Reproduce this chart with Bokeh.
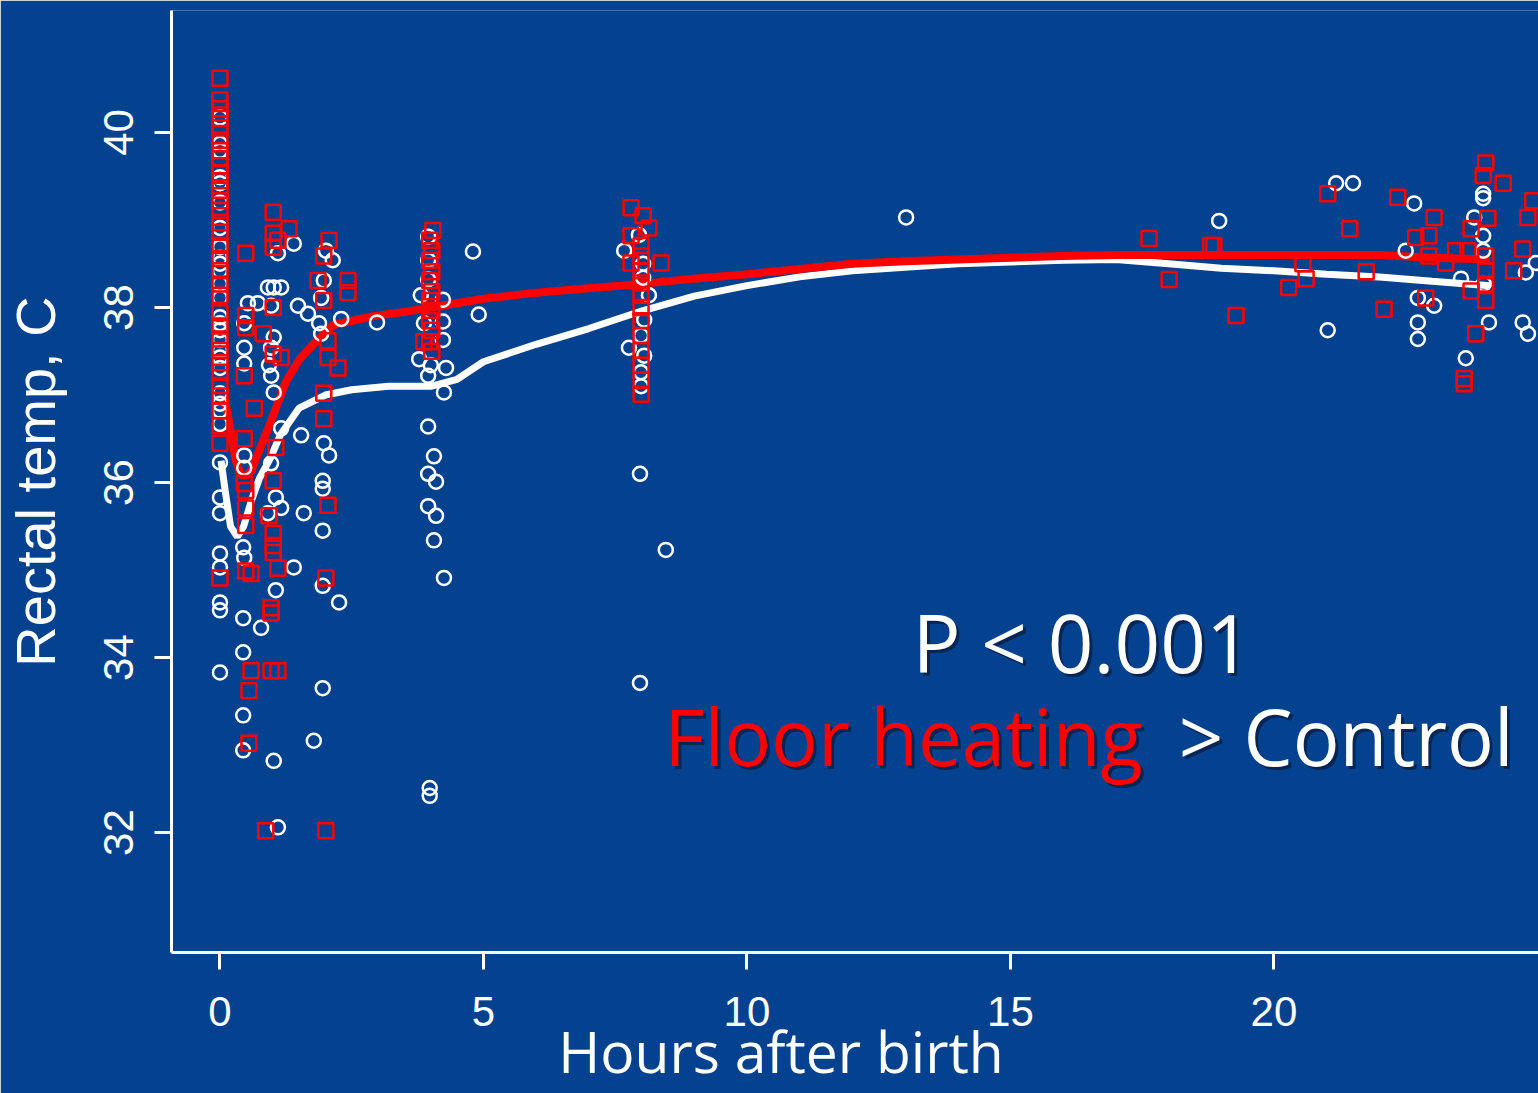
from bokeh.plotting import figure
from bokeh.models import Range1d, FixedTicker, Label
from bokeh.embed import file_html
from bokeh.resources import INLINE

BG = "#04428F"
RED = "#FF0000"
WHITE = "#FFFFFF"

x_ticks = [0, 5, 10, 15, 20]
y_ticks = [32, 34, 36, 38, 40]

# ---------------- Control (white circles) ----------------
ctrl_birth_temp = [40.17, 39.87, 39.79, 39.49, 39.42, 39.20, 38.91, 38.69, 38.57, 38.50,
                   38.42, 38.27, 38.11, 37.89, 37.82, 37.74, 37.63, 37.51, 37.43, 37.31,
                   37.02, 36.90, 36.82, 36.67, 36.23, 35.83, 35.65, 35.19, 35.03, 34.63,
                   34.54, 33.83]
ctrl_early_hours = [0.53, 0.46, 0.46, 0.46, 0.46, 0.46, 0.44, 0.46, 0.44, 0.44, 0.44, 0.44, 0.72, 0.78,
                    1.10, 1.40, 1.02, 1.16, 0.91, 0.97, 1.48, 1.67, 1.88, 2.30, 1.02, 1.92, 0.97, 0.93,
                    0.97, 1.02, 1.16, 1.54, 0.97, 1.06, 1.16, 1.59, 0.91, 1.40, 1.02, 1.10, 1.06,
                    2.01, 2.14, 1.97, 1.92, 1.97, 2.07, 1.95, 1.95, 1.95, 2.26, 1.95, 1.95, 1.78, 2.98]
ctrl_early_temp = [38.05, 37.82, 37.54, 37.36, 36.31, 36.17, 35.26, 35.14, 34.45, 34.06, 33.34, 32.94, 38.05, 34.34,
                   38.62, 38.73, 38.23, 38.23, 38.23, 38.02, 38.02, 37.93, 37.82, 37.87, 37.66, 37.70, 37.54, 37.34,
                   37.22, 37.03, 36.62, 36.54, 36.22, 35.83, 35.71, 35.65, 35.65, 35.03, 32.82, 32.06, 34.77,
                   38.65, 38.54, 38.31, 38.11, 36.45, 36.31, 36.02, 35.93, 35.45, 34.63, 34.82, 33.65, 33.05, 37.83]
ctrl_4h_hours = [3.95, 3.95, 3.95, 3.81, 4.23, 4.23, 3.87, 4.23, 3.78, 4.00, 4.29, 3.95, 4.25,
                 3.95, 4.06, 3.95, 4.10, 3.95, 4.10, 4.06, 4.25, 3.98, 3.98, 4.80, 4.91]
ctrl_4h_temp = [38.81, 38.54, 38.32, 38.14, 38.09, 37.84, 37.82, 37.63, 37.41, 37.34, 37.31, 37.22, 37.03,
                36.64, 36.30, 36.10, 36.01, 35.73, 35.62, 35.34, 34.91, 32.51, 32.42, 38.64, 37.92]
ctrl_8h_hours = [7.95, 7.67, 8.03, 8.03, 8.14, 8.05, 7.99, 7.76, 8.05, 7.99, 7.99, 7.97, 7.97, 8.46, 13.02]
ctrl_8h_temp = [38.83, 38.65, 38.50, 38.34, 38.14, 37.86, 37.68, 37.54, 37.45, 37.26, 37.10, 36.10, 33.71, 35.23, 39.03]
ctrl_late_hours = [21.18, 21.50, 18.96, 22.66, 22.50, 22.73, 23.04, 22.73, 22.73, 21.02, 23.55, 23.64,
                   23.97, 23.97, 23.80, 23.97, 23.97, 23.98, 24.08, 24.72, 24.82, 24.78, 24.97]
ctrl_late_temp = [39.42, 39.42, 38.99, 39.19, 38.65, 38.11, 38.02, 37.83, 37.64, 37.74, 38.33, 37.42,
                  39.30, 39.25, 39.03, 38.82, 38.65, 38.27, 37.83, 37.83, 37.70, 38.40, 38.51]

# ---------------- Floor heating (red squares) ----------------
heat_birth_temp = [40.62, 40.37, 40.27, 40.16, 40.05, 39.91, 39.79, 39.70, 39.62, 39.54, 39.45,
                   39.34, 39.22, 39.11, 38.97, 38.86, 38.71, 38.56, 38.42, 38.27, 38.14, 37.94,
                   37.79, 37.64, 37.51, 37.37, 37.26, 37.11, 36.99, 36.82, 36.65, 36.45, 34.91]
heat_early_hours = [0.49, 0.49, 0.49, 0.82, 0.46, 0.65, 0.46, 0.46, 0.49, 0.49, 0.49, 0.49, 0.59, 0.59,
                    0.55, 0.55, 0.87, 1.16, 1.01,
                    1.01, 1.01, 1.31, 1.10, 1.01, 1.01, 1.06, 1.01, 0.93, 1.01, 1.01, 1.01, 1.10,
                    0.97, 0.97, 0.97, 1.10,
                    2.07, 1.97, 1.86, 2.43, 2.43, 1.97, 2.05, 2.05, 2.24, 1.97, 1.97, 2.05, 2.01, 2.01]
heat_early_temp = [38.62, 37.91, 37.77, 37.70, 37.22, 36.85, 36.50, 35.99, 35.91, 35.71, 35.51, 34.99, 34.96, 33.85,
                   33.62, 33.02, 32.02, 37.43, 37.47,
                   39.09, 38.85, 38.90, 38.77, 38.69, 38.00, 36.40, 36.02, 35.62, 35.42, 35.28, 35.20, 35.02,
                   34.57, 34.51, 33.85, 33.85,
                   38.77, 38.59, 38.31, 38.31, 38.17, 38.08, 37.62, 37.43, 37.31, 37.02, 36.73, 35.74, 34.91, 32.02]
heat_4h_hours = [4.04, 3.98, 4.02, 3.98, 4.02, 3.98, 4.02, 3.98, 4.02, 3.98, 4.02, 3.98, 4.02, 3.87]
heat_4h_temp = [38.88, 38.77, 38.65, 38.54, 38.41, 38.31, 38.18, 38.08, 37.97, 37.85, 37.74, 37.61, 37.50, 37.61]
heat_8h_hours = [7.80, 8.03, 8.14, 7.80, 8.37, 7.80, 7.99, 7.99, 7.99, 7.99, 7.99, 7.99, 7.99, 7.99,
                 7.99, 7.99, 7.99, 7.99]
heat_8h_temp = [39.14, 39.05, 38.91, 38.82, 38.51, 38.51, 38.71, 38.59, 38.42, 38.28, 38.14, 38.00, 37.85,
                37.68, 37.51, 37.34, 37.17, 37.01]
heat_late_hours = [17.63, 18.01, 18.80, 18.86, 19.28, 21.02, 21.44, 20.55, 20.61, 20.28, 21.75, 22.09,
                   22.35, 23.04, 22.69, 22.94, 22.94, 23.26, 22.88, 23.45, 23.68, 23.74, 23.74, 23.83,
                   23.61, 23.61, 24.02, 23.97, 24.35, 24.06, 24.02, 24.02, 24.02, 24.82, 24.72, 24.55,
                   24.91, 24.02]
heat_late_temp = [38.79, 38.32, 38.71, 38.71, 37.91, 39.30, 38.90, 38.50, 38.33, 38.23, 38.41, 37.98,
                  39.26, 39.03, 38.80, 38.82, 38.59, 38.51, 38.11, 38.65, 38.65, 38.90, 38.19, 37.70,
                  37.19, 37.13, 39.65, 39.51, 39.42, 39.02, 38.59, 38.42, 38.27, 39.03, 38.67, 38.42,
                  39.22, 38.08]

# ---------------- Smoothed curves ----------------
ctrl_fit_hours = [0.02, 0.1, 0.2, 0.33, 0.45, 0.6, 0.75, 0.95, 1.15, 1.5, 2.0, 2.5, 3.2, 4.0, 4.5,
                  5.0, 6.0, 7.0, 8.0, 9.0, 10.0, 11.0, 12.0, 13.0, 14.0, 15.0, 16.0, 17.0, 18.0,
                  19.0, 20.0, 21.0, 22.0, 23.0, 24.1]
ctrl_fit_temp = [36.25, 35.9, 35.5, 35.38, 35.5, 35.8, 36.05, 36.27, 36.55, 36.85, 37.0, 37.06, 37.1,
                 37.1, 37.18, 37.38, 37.58, 37.76, 37.96, 38.13, 38.25, 38.35, 38.42, 38.46, 38.5,
                 38.52, 38.54, 38.55, 38.5, 38.45, 38.42, 38.38, 38.35, 38.3, 38.25]
heat_fit_hours = [0.08, 0.2, 0.3, 0.4, 0.5, 0.6, 0.8, 1.0, 1.25, 1.5, 1.8, 2.15, 2.9, 3.5, 4.0,
                  5.0, 6.0, 7.0, 8.0, 9.0, 10.0, 11.0, 12.0, 13.0, 14.0, 15.0, 16.0, 17.0, 18.0,
                  19.0, 20.0, 21.0, 22.0, 23.0, 24.1]
heat_fit_temp = [37.0, 36.6, 36.25, 36.08, 36.08, 36.14, 36.45, 36.75, 37.15, 37.4, 37.6, 37.8, 37.9,
                 37.95, 38.0, 38.1, 38.17, 38.22, 38.27, 38.33, 38.38, 38.44, 38.5, 38.53, 38.55,
                 38.57, 38.59, 38.6, 38.6, 38.6, 38.6, 38.6, 38.6, 38.57, 38.55]

ctrl_hours = [0.0] * len(ctrl_birth_temp) + ctrl_early_hours + ctrl_4h_hours + ctrl_8h_hours + ctrl_late_hours
ctrl_temp = ctrl_birth_temp + ctrl_early_temp + ctrl_4h_temp + ctrl_8h_temp + ctrl_late_temp
heat_hours = [0.0] * len(heat_birth_temp) + heat_early_hours + heat_4h_hours + heat_8h_hours + heat_late_hours
heat_temp = heat_birth_temp + heat_early_temp + heat_4h_temp + heat_8h_temp + heat_late_temp

p = figure(width=1538, height=1093, output_backend="svg", toolbar_location=None,
           x_range=Range1d(-0.92, 25.02), y_range=Range1d(30.63, 41.394),
           min_border_left=171, min_border_right=0, min_border_top=10, min_border_bottom=141)
p.background_fill_color = BG
p.border_fill_color = BG
p.outline_line_color = None
p.grid.visible = False

for ax in (p.xaxis[0], p.yaxis[0]):
    ax.axis_line_color = WHITE
    ax.axis_line_width = 3
    ax.major_tick_line_color = WHITE
    ax.major_tick_line_width = 3
    ax.major_tick_in = 0
    ax.major_tick_out = 17
    ax.minor_tick_line_color = None
    ax.major_label_text_color = WHITE
    ax.major_label_text_font = "Liberation Sans"
    ax.major_label_text_font_size = "42px"
    ax.axis_label_text_color = WHITE
    ax.axis_label_text_font_style = "normal"

p.xaxis[0].ticker = FixedTicker(ticks=x_ticks)
p.yaxis[0].ticker = FixedTicker(ticks=y_ticks)
p.xaxis[0].major_label_standoff = 27
p.yaxis[0].major_label_standoff = 21
p.yaxis[0].major_label_orientation = "vertical"

p.yaxis[0].axis_label = "Rectal temp, C"
p.yaxis[0].axis_label_text_font = "Liberation Sans"
p.yaxis[0].axis_label_text_font_size = "56px"
p.yaxis[0].axis_label_standoff = 35

# the title sits left of the frame centre in the original: pad it on the right
p.xaxis[0].axis_label = "Hours after birth" + "\u00a0" * 10
p.xaxis[0].axis_label_text_font = "Open Sans"
p.xaxis[0].axis_label_text_font_size = "57px"
p.xaxis[0].axis_label_text_line_height = 0.8
p.xaxis[0].axis_label_standoff = -17

# fitted curves
p.line(ctrl_fit_hours, ctrl_fit_temp, line_color=WHITE, line_width=7)
p.line(heat_fit_hours, heat_fit_temp, line_color=RED, line_width=8)

# points
p.scatter(ctrl_hours, ctrl_temp, marker="circle", size=14, fill_color=None,
          line_color=WHITE, line_width=2.5)
p.scatter(heat_hours, heat_temp, marker="square", size=15, fill_color=None,
          line_color=RED, line_width=2.5)

SHADOW = "#0A1F45"

def add_text(txt, x, y, color, size, font="Open Sans", align="left"):
    p.add_layout(Label(x=x, y=y, text=txt, text_color=SHADOW, text_alpha=0.8,
                       text_font=font, text_font_size=size, text_align=align,
                       text_baseline="alphabetic", x_offset=3, y_offset=-3))
    p.add_layout(Label(x=x, y=y, text=txt, text_color=color, text_font=font,
                       text_font_size=size, text_align=align, text_baseline="alphabetic"))

add_text("P < 0.001", 16.36, 34.18, WHITE, "80px", align="center")
add_text("Floor heating", 8.43, 33.10, RED, "78px")
add_text("> Control", 24.55, 33.10, WHITE, "78px", align="right")

open("out.html", "w").write(file_html(p, INLINE))
